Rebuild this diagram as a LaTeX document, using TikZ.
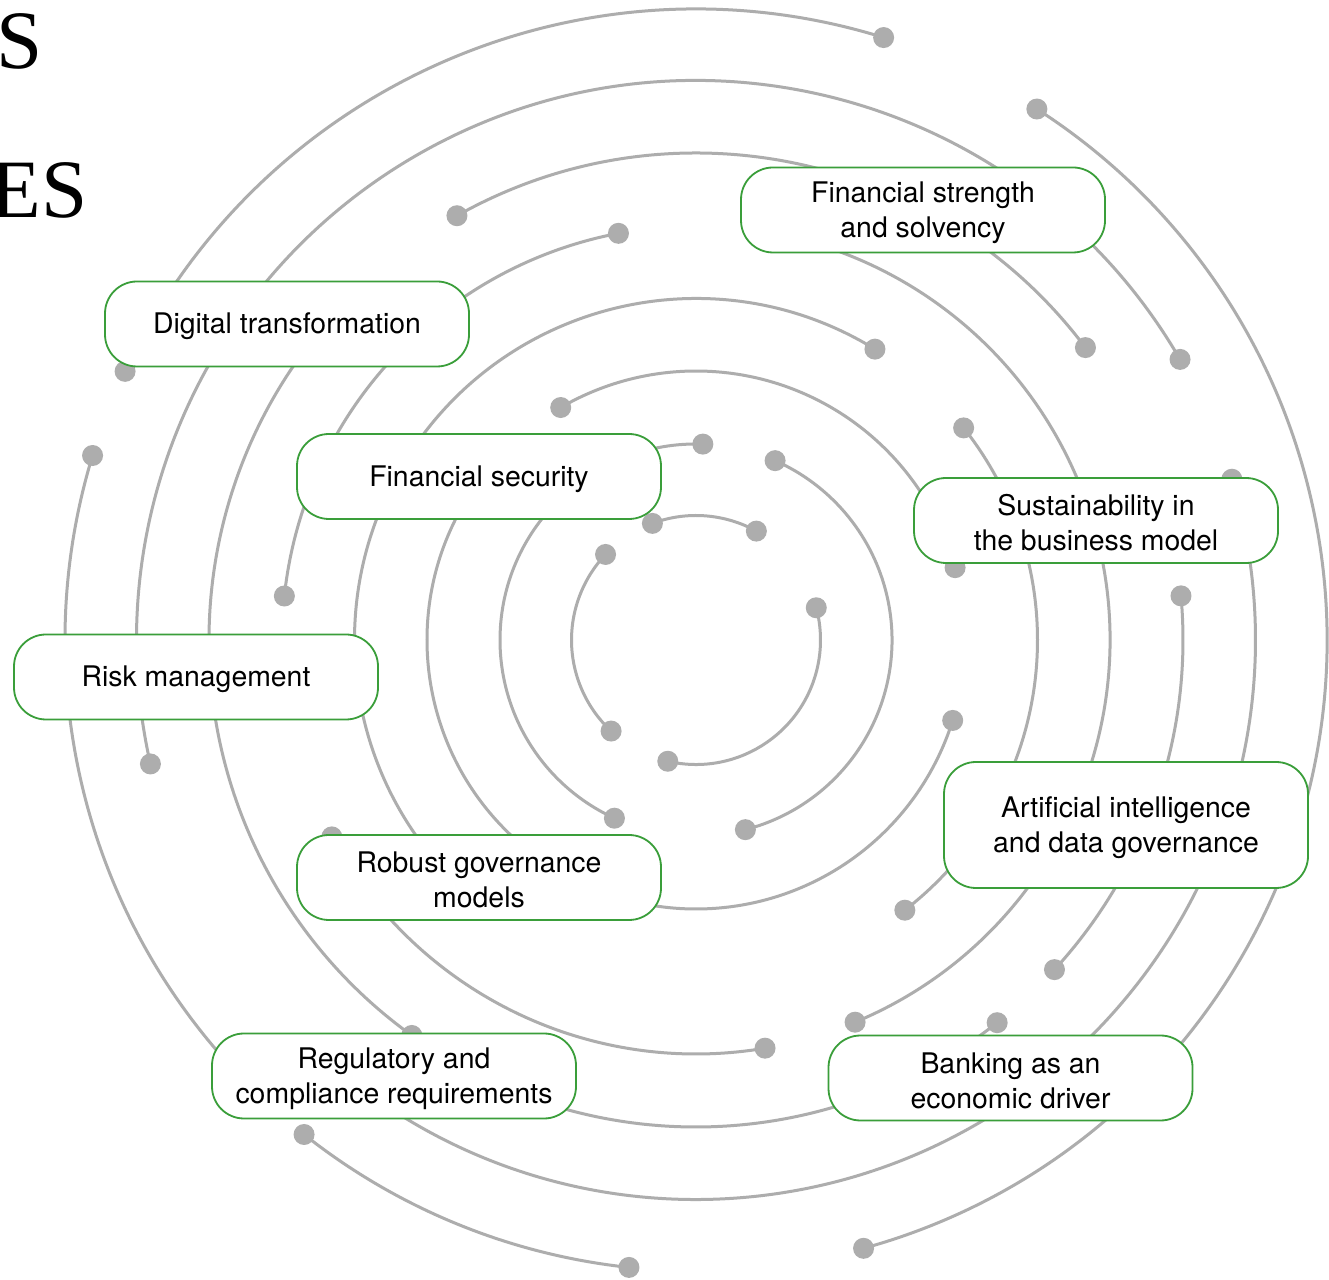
\documentclass[tikz,border=0pt]{standalone}
\usepackage{fontspec}
\setmainfont{TeX Gyre Heros}
\newfontfamily\titlefont{Liberation Serif}
\definecolor{arcgray}{HTML}{ADADAD}
\definecolor{boxgreen}{HTML}{3A9E3A}
\newcommand\ringseg[5]{%
  \draw[ring] (#2:#1) arc[start angle=#2,end angle=#3,radius=#1];
  \ifnum#4=1 \fill[knob] (#2:#1) circle[radius=10.5];\fi
  \ifnum#5=1 \fill[knob] (#3:#1) circle[radius=10.5];\fi}
\newcommand\tstrut{\rule{0pt}{26pt}}
\begin{document}
\begin{tikzpicture}[x=1pt,y=1pt,
  ring/.style={draw=arcgray,line width=3pt},
  knob/.style={fill=arcgray},
  topic/.style={draw=boxgreen,line width=1.8pt,fill=white,rounded corners=32pt,
    minimum width=364pt,minimum height=85pt,align=center,inner sep=0pt,
    text=black,font=\fontsize{28.4}{35}\selectfont},
  title/.style={anchor=base east,inner sep=0pt,text=black,
    font=\titlefont\fontsize{83}{83}\selectfont}]
\useasboundingbox (0,0) rectangle (1329,1279);
\fill[white] (0,0) rectangle (1329,1279);

\node[title] (ttlA) at (42.4,1210) {S};
\node[title] (ttlB) at (87.4,1061) {ES};

\begin{scope}[shift={(696,639)}]
  % ring 1
  \ringseg{124.5}{61}{110.5}{1}{1}
  \ringseg{124.5}{136.6}{227}{1}{1}
  \ringseg{124.5}{-103.1}{15}{1}{1}
  % ring 2
  \ringseg{196}{88}{245.4}{1}{1}
  \ringseg{196}{-75.4}{66.2}{1}{1}
  % ring 3
  \ringseg{269}{15.6}{120.2}{1}{1}
  \ringseg{269}{141}{342.6}{0}{1}
  % ring 4
  \ringseg{341.5}{58.4}{225}{1}{0}
  \ringseg{341.5}{-52.3}{38.4}{1}{1}
  % ring 5
  \ringseg{414}{100.8}{173.9}{1}{1}
  \ringseg{414}{208.4}{279.6}{1}{1}
  \ringseg{414}{-67.4}{77}{1}{0}
  % ring 6
  \ringseg{487}{36.9}{119.4}{1}{1}
  \ringseg{487}{-42.6}{5.2}{1}{1}
  \ringseg{487}{-115}{-51.8}{0}{1}
  \ringseg{487}{138}{234.3}{0}{1}
  % ring 7
  \ringseg{559.5}{30.1}{192.8}{1}{1}
  \ringseg{559.5}{-128}{16.7}{0}{1}
  % ring 8
  \ringseg{631}{72.7}{154.8}{1}{1}
  \ringseg{631}{-74.6}{57.3}{1}{1}
  \ringseg{631}{163}{226}{1}{0}
  \ringseg{631}{231.6}{263.9}{1}{1}
\end{scope}

\node[topic] (digital) at (287,955) {\tstrut Digital transformation};
\node[topic] (strength) at (923,1069) {\tstrut Financial strength\\and solvency};
\node[topic] (security) at (479,802.5) {\tstrut Financial security};
\node[topic] (sustain) at (1096,758.5) {\tstrut Sustainability in\\the business model};
\node[topic] (risk) at (196,602) {\tstrut Risk management};
\node[topic,minimum height=126pt] (ai) at (1126,454) {\tstrut Artificial intelligence\\and data governance};
\node[topic] (robust) at (479,401.5) {\tstrut Robust governance\\models};
\node[topic] (regul) at (394,203) {\tstrut Regulatory and\\compliance requirements};
\node[topic] (banking) at (1010.5,201) {\tstrut Banking as an\\economic driver};
\end{tikzpicture}
\end{document}
